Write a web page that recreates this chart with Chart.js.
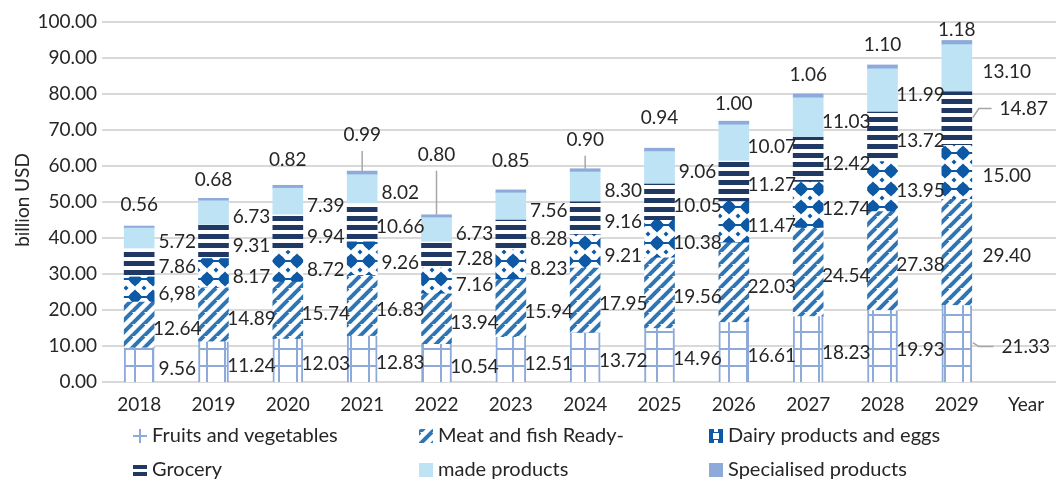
<!DOCTYPE html>
<html lang="en">
<head>
<meta charset="UTF-8">
<title>Food market forecast</title>
<script src="https://cdn.jsdelivr.net/npm/chart.js@4.4.0/dist/chart.umd.min.js"></script>
<style>
  html, body { margin: 0; padding: 0; background: #fff; }
  #wrap { width: 1056px; height: 480px; position: relative; }
</style>
</head>
<body>
<div id="wrap"><canvas id="chart" width="1056" height="480"></canvas></div>
<script>
// values (billion USD)
const years = ['2018', '2019', '2020', '2021', '2022', '2023', '2024', '2025', '2026', '2027', '2028', '2029'];
const fruits = [9.56, 11.24, 12.03, 12.83, 10.54, 12.51, 13.72, 14.96, 16.61, 18.23, 19.93, 21.33];
const meat = [12.64, 14.89, 15.74, 16.83, 13.94, 15.94, 17.95, 19.56, 22.03, 24.54, 27.38, 29.40];
const dairy = [6.98, 8.17, 8.72, 9.26, 7.16, 8.23, 9.21, 10.38, 11.47, 12.74, 13.95, 15.00];
const grocery = [7.86, 9.31, 9.94, 10.66, 7.28, 8.28, 9.16, 10.05, 11.27, 12.42, 13.72, 14.87];
const readyMade = [5.72, 6.73, 7.39, 8.02, 6.73, 7.56, 8.30, 9.06, 10.07, 11.03, 11.99, 13.10];
const specialised = [0.56, 0.68, 0.82, 0.99, 0.80, 0.85, 0.90, 0.94, 1.00, 1.06, 1.10, 1.18];
const legendNames = ['Fruits and vegetables', 'Meat and fish Ready-', 'Dairy products and eggs',
                     'Grocery', 'made products', 'Specialised products'];

// how far (px) the top label sits above each column, and which ones get a leader line
const topLift = [21, 18, 25, 36, 60, 29, 29, 30, 17, 19, 20, 11];
const topLeader = [3, 4, 6];
// labels that were dragged away from the column (dataset-index: [dx, dy])
const movedLabels = { '3-11': [67, -10], '0-11': [69, 3] };
const textOverride = { '2-0': '6,98' };

const FONT = 'Lato, "Open Sans", sans-serif';
const TXT = '#262626';

function tile(w, h, draw) {
    const c = document.createElement('canvas');
    c.width = w; c.height = h;
    const g = c.getContext('2d');
    g.fillStyle = '#fff';
    g.fillRect(0, 0, w, h);
    draw(g);
    return document.createElement('canvas').getContext('2d').createPattern(c, 'repeat');
}

function diamond(g, cx, cy, r) {
    g.beginPath();
    g.moveTo(cx, cy - r); g.lineTo(cx + r, cy); g.lineTo(cx, cy + r); g.lineTo(cx - r, cy);
    g.closePath();
    g.fill();
}

const pFruits = tile(18, 17, g => {
    g.fillStyle = '#8eaadb';
    g.fillRect(8, 0, 2, 17);
    g.fillRect(0, 8, 18, 2);
});
const pMeat = tile(12, 12, g => {
    g.strokeStyle = '#2e75b6';
    g.lineWidth = 4;
    [[-12, 12, 0, 0], [0, 12, 12, 0], [0, 24, 24, 0]].forEach(l => {
        g.beginPath(); g.moveTo(l[0], l[1]); g.lineTo(l[2], l[3]); g.stroke();
    });
});
const pDairy = tile(18, 18, g => {
    g.fillStyle = '#0d59a6';
    g.fillRect(0, 8, 18, 2);
    diamond(g, 9, 9, 7.5);
    g.beginPath(); g.arc(9, 9, 5.5, 0, Math.PI * 2); g.fill();
    [[0, 0], [18, 0], [0, 18], [18, 18]].forEach(p => diamond(g, p[0], p[1], 2.5));
});
const pGrocery = tile(9, 9, g => {
    g.fillStyle = '#1f3864';
    g.fillRect(0, 0, 9, 5);
});

const patterns = [pFruits, pMeat, pDairy, pGrocery, '#bde3f4', '#8eaadb'];

const gridToEdge = {
    id: 'gridToEdge',
    beforeDatasetsDraw(chart) {
        const { ctx, chartArea, scales } = chart;
        ctx.save();
        ctx.strokeStyle = '#d9d9d9';
        ctx.lineWidth = 2;
        scales.y.ticks.forEach(t => {
            const py = Math.round(scales.y.getPixelForValue(t.value));
            ctx.beginPath();
            ctx.moveTo(chartArea.left, py);
            ctx.lineTo(chart.width, py);
            ctx.stroke();
        });
        ctx.restore();
    }
};

const barLabels = {
    id: 'barLabels',
    afterDatasetsDraw(chart) {
        const ctx = chart.ctx;
        const last = chart.data.datasets.length - 1;
        ctx.save();
        ctx.font = '19px ' + FONT;
        ctx.fillStyle = TXT;
        ctx.textAlign = 'center';
        ctx.textBaseline = 'middle';
        chart.data.datasets.forEach((ds, d) => {
            chart.getDatasetMeta(d).data.forEach((bar, i) => {
                const key = d + '-' + i;
                const txt = textOverride[key] || ds.data[i].toFixed(2);
                if (d === last) {
                    const ly = bar.y - topLift[i];
                    ctx.fillText(txt, bar.x, ly);
                    if (topLeader.includes(i)) {
                        ctx.strokeStyle = '#a6a6a6';
                        ctx.lineWidth = 1.5;
                        ctx.beginPath();
                        ctx.moveTo(bar.x, ly + 16);
                        ctx.lineTo(bar.x, bar.y);
                        ctx.stroke();
                    }
                    return;
                }
                const mid = (bar.y + bar.base) / 2;
                let lx = bar.x + 38 + (i === 11 ? 12 : 0);
                let ly = mid + 4;
                if (movedLabels[key]) {
                    lx = bar.x + movedLabels[key][0];
                    ly = mid + movedLabels[key][1];
                    const right = bar.x + bar.width / 2;
                    const start = lx - ctx.measureText(txt).width / 2 - 8;
                    ctx.strokeStyle = '#a6a6a6';
                    ctx.lineWidth = 1.5;
                    ctx.beginPath();
                    ctx.moveTo(right + 1, mid - 1);
                    ctx.lineTo(right + 7, ly);
                    ctx.lineTo(start, ly);
                    ctx.stroke();
                }
                ctx.fillText(txt, lx, ly);
            });
        });
        ctx.restore();
    }
};

const extras = {
    id: 'extras',
    afterDraw(chart) {
        const ctx = chart.ctx;
        ctx.save();
        ctx.font = '19px ' + FONT;
        ctx.fillStyle = TXT;
        ctx.textBaseline = 'middle';
        ctx.textAlign = 'center';
        ctx.fillText('Year', 1026, 405);
        ctx.save();
        ctx.translate(23, 200);
        ctx.rotate(-Math.PI / 2);
        ctx.fillText('billion USD', 0, 0);
        ctx.restore();

        // legend, two rows of three
        const cols = [133, 419, 709];
        const rows = [436, 470];
        ctx.font = '20px ' + FONT;
        ctx.textAlign = 'left';
        legendNames.forEach((name, k) => {
            const x = cols[k % 3];
            const y = rows[Math.floor(k / 3)];
            const fill = patterns[k];
            if (k === 0) {
                ctx.fillStyle = '#8eaadb';
                ctx.fillRect(x, y - 1, 14, 2);
                ctx.fillRect(x + 6, y - 7, 2, 14);
            } else if (k === 3) {
                ctx.fillStyle = '#1f3864';
                ctx.fillRect(x, y - 5, 14, 4);
                ctx.fillRect(x, y + 2, 14, 4);
            } else if (k === 2) {
                ctx.fillStyle = '#0d59a6';
                ctx.fillRect(x, y - 7, 14, 14);
                ctx.fillStyle = '#fff';
                ctx.fillRect(x + 4, y - 3, 6, 6);
                ctx.fillRect(x + 5, y - 7, 4, 3);
                ctx.fillRect(x + 5, y + 4, 4, 3);
            } else {
                ctx.fillStyle = fill;
                ctx.fillRect(x, y - 7, 14, 14);
            }
            ctx.fillStyle = TXT;
            ctx.fillText(name, x + 19, y);
        });
        ctx.restore();
    }
};

const seriesData = [fruits, meat, dairy, grocery, readyMade, specialised];

function drawChart() {
    new Chart(document.getElementById('chart'), {
        type: 'bar',
        data: {
            labels: years,
            datasets: seriesData.map((vals, k) => ({
                label: legendNames[k],
                data: vals,
                backgroundColor: patterns[k],
                borderColor: '#8eaadb',
                borderWidth: k === 0 ? { left: 2, right: 2, top: 0, bottom: 0 } : 0,
                borderSkipped: false,
                barThickness: 30
            }))
        },
        options: {
            responsive: false,
            animation: false,
            devicePixelRatio: 1,
            layout: { padding: { top: 22, right: 62, left: 0, bottom: 0 } },
            plugins: { legend: { display: false }, tooltip: { enabled: false } },
            scales: {
                x: {
                    stacked: true,
                    grid: { display: false, drawTicks: false },
                    border: { display: false },
                    ticks: { color: TXT, font: { family: FONT, size: 19 }, padding: 11 },
                    afterFit: s => { s.height = 98; }
                },
                y: {
                    stacked: true,
                    min: 0,
                    max: 100,
                    grid: { display: false, drawTicks: false },
                    border: { display: false },
                    ticks: {
                        stepSize: 10,
                        color: TXT,
                        font: { family: FONT, size: 19 },
                        padding: 5,
                        callback: v => v.toFixed(2)
                    },
                    afterFit: s => { s.width = 102; }
                }
            }
        },
        plugins: [gridToEdge, barLabels, extras]
    });
}

document.fonts.load('19px Lato').then(drawChart, drawChart);
</script>
</body>
</html>
